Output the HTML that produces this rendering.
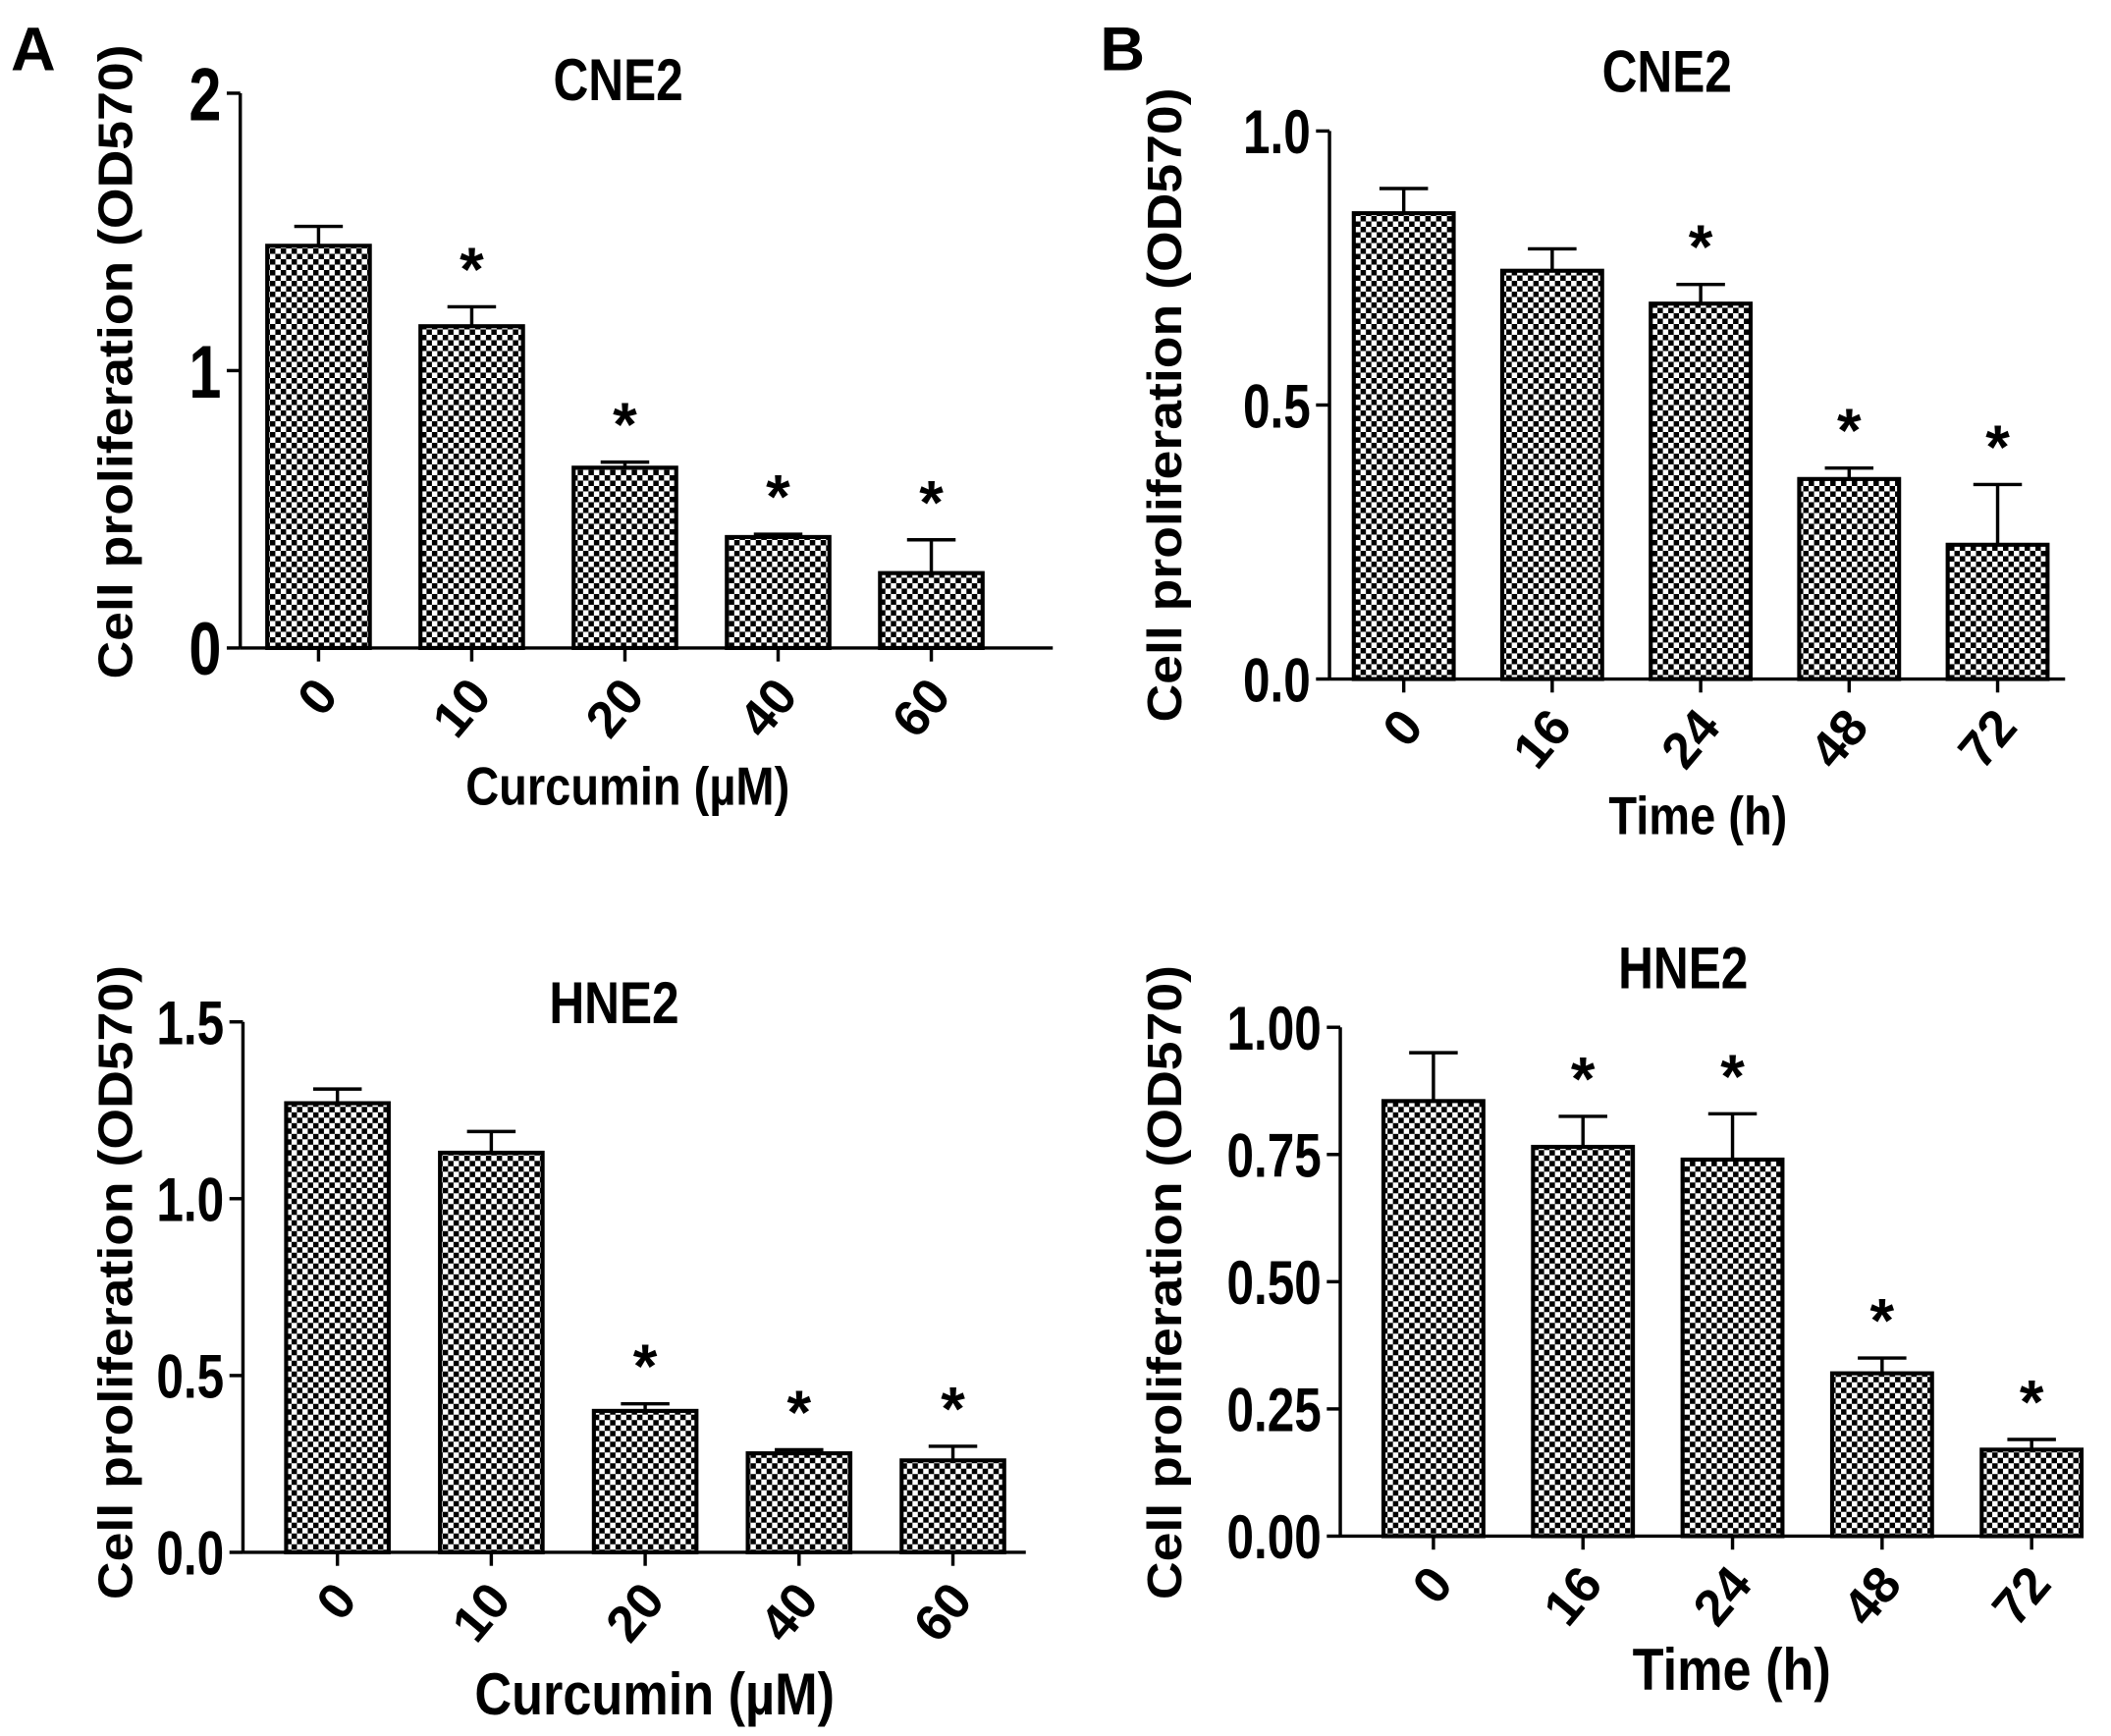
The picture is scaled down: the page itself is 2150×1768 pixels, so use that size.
<!DOCTYPE html>
<html><head><meta charset="utf-8"><style>
html,body{margin:0;padding:0;background:#fff;}
svg{display:block;}
text{font-family:"Liberation Sans",Arial,sans-serif;font-weight:bold;fill:#000;}
</style></head><body>
<svg id="fig" width="2150" height="1768" viewBox="0 0 1564 1286" xmlns="http://www.w3.org/2000/svg">
<defs>
<pattern id="chk" width="8" height="8" patternUnits="userSpaceOnUse">
<rect width="8" height="8" fill="#fff"/><rect width="4" height="4" fill="#000"/><rect x="4" y="4" width="4" height="4" fill="#000"/>
</pattern>
</defs>
<text x="8" y="52" font-size="46">A</text>
<text x="815" y="52" font-size="46">B</text>
</svg>
<script>
const catsA = ["0","10","20","40","60"];
const catsB = ["0","16","24","48","72"];
const valsA1 = [1.45,1.16,0.65,0.40,0.27];
const errsA1 = [0.07,0.07,0.02,0.01,0.12];
const starA1 = [false,true,true,true,true];
const ticksA1 = [0,1,2];
const tickLabA1 = ["0","1","2"];
const valsA2 = [1.27,1.13,0.40,0.28,0.26];
const errsA2 = [0.04,0.06,0.02,0.01,0.04];
const starA2 = [false,false,true,true,true];
const ticksA2 = [0,0.5,1.0,1.5];
const tickLabA2 = ["0.0","0.5","1.0","1.5"];
const valsB1 = [0.85,0.745,0.685,0.365,0.245];
const errsB1 = [0.045,0.04,0.035,0.02,0.11];
const starB1 = [false,false,true,true,true];
const ticksB1 = [0,0.5,1.0];
const tickLabB1 = ["0.0","0.5","1.0"];
const valsB2 = [0.855,0.765,0.74,0.32,0.17];
const errsB2 = [0.095,0.06,0.09,0.03,0.02];
const starB2 = [false,true,true,true,true];
const ticksB2 = [0,0.25,0.5,0.75,1.0];
const tickLabB2 = ["0.00","0.25","0.50","0.75","1.00"];

const NS="http://www.w3.org/2000/svg";
const svg=document.getElementById('fig');
function mk(tag,attrs,parent){const e=document.createElementNS(NS,tag);for(const k in attrs)e.setAttribute(k,attrs[k]);(parent||svg).appendChild(e);return e;}

function panel(p){
  const g=mk('g',{});
  
  
  const y=v=>p.y0-(v/p.ymax)*(p.y0-p.ytop);
  const x=i=>p.x0+p.first+i*p.step;
  const ya=mk('line',{x1:p.x0,y1:y(p.ymax),x2:p.x0,y2:p.y0,stroke:'#000','stroke-width':2.5},g);
  
  
  const xa=mk('line',{x1:p.x0,y1:p.y0,x2:p.xend,y2:p.y0,stroke:'#000','stroke-width':2.5},g);
  
  
  p.ticks.forEach((t,i)=>{
    mk('line',{x1:p.x0-10,y1:y(t),x2:p.x0,y2:y(t),stroke:'#000','stroke-width':2.5},g);
    const tx=p.x0-14, ty=y(t);
    const tl=mk('text',{x:0,y:p.tfs*0.36,'font-size':p.tfs,'text-anchor':'end',transform:`translate(${tx},${ty}) scale(0.9,1.15)`},g);
    tl.textContent=p.tickLab[i];
    
    
  });
  p.cats.forEach((c,i)=>{
    const cx=x(i), v=p.vals[i], e=p.errs[i];
    mk('line',{x1:cx,y1:p.y0,x2:cx,y2:p.y0+10,stroke:'#000','stroke-width':2.5},g);
    const el=mk('line',{x1:cx,y1:y(v),x2:cx,y2:y(v+e),stroke:'#000','stroke-width':2.5},g);
    
    
    mk('line',{x1:cx-18,y1:y(v+e),x2:cx+18,y2:y(v+e),stroke:'#000','stroke-width':2.5},g);
    const r=mk('rect',{x:cx-p.bw/2,y:y(v),width:p.bw,height:p.y0-y(v),fill:'url(#chk)',stroke:'#000','stroke-width':3},g);
    
    
    if(p.star[i]){
      const s=mk('text',{x:cx,y:y(v+e)-12,'font-size':46,'text-anchor':'middle'},g);
      s.textContent='*';
      
      
    }
    const lx=cx+6, ly=p.y0+28;
    const t=mk('text',{x:lx,y:ly,'font-size':38,'text-anchor':'end',transform:`rotate(-50 ${lx} ${ly})`,dy:13},g);
    t.textContent=c;
    
    
  });
  const ti=mk('text',{x:0,y:0,'font-size':38,'text-anchor':'middle',transform:`translate(${p.titleX},${p.titleY}) scale(0.95,1.15)`},g);
  ti.textContent=p.title;
  
  
  const xt=mk('text',{x:0,y:0,'font-size':p.xtfs,'text-anchor':'middle',transform:`translate(${p.xtX},${p.xtY}) scale(0.95,1.1)`},g);
  xt.textContent=p.xtitle;
  
  
  const yt=mk('text',{x:0,y:0,'font-size':36,'text-anchor':'middle',textLength:470,lengthAdjust:'spacingAndGlyphs',transform:`translate(${p.ylX},${p.ylY}) rotate(-90)`},g);
  yt.textContent='Cell proliferation (OD570)';
  
  
}

panel({name:'chart-a-cne2',x0:178,y0:480,ytop:69,ymax:2,xend:780,first:58,step:113.5,bw:76,cats:catsA,vals:valsA1,errs:errsA1,star:starA1,ticks:ticksA1,tickLab:tickLabA1,tfs:48,title:'CNE2',titleX:458,titleY:74,xtitle:'Curcumin (µM)',xtX:465,xtY:596,xtfs:36,ylX:98,ylY:268});
panel({name:'chart-a-hne2',x0:180,y0:1150,ytop:757,ymax:1.5,xend:760,first:70,step:114,bw:76,cats:catsA,vals:valsA2,errs:errsA2,star:starA2,ticks:ticksA2,tickLab:tickLabA2,tfs:40,title:'HNE2',titleX:455,titleY:758,xtitle:'Curcumin (µM)',xtX:485,xtY:1270,xtfs:40,ylX:98,ylY:950});
panel({name:'chart-b-cne2',x0:985,y0:503,ytop:97,ymax:1,xend:1530,first:55,step:110,bw:74,cats:catsB,vals:valsB1,errs:errsB1,star:starB1,ticks:ticksB1,tickLab:tickLabB1,tfs:40,title:'CNE2',titleX:1235,titleY:68,xtitle:'Time (h)',xtX:1258,xtY:618,xtfs:36,ylX:875,ylY:300});
panel({name:'chart-b-hne2',x0:993,y0:1138,ytop:761,ymax:1,xend:1540,first:69,step:110.8,bw:74,cats:catsB,vals:valsB2,errs:errsB2,star:starB2,ticks:ticksB2,tickLab:tickLabB2,tfs:40,title:'HNE2',titleX:1247,titleY:732,xtitle:'Time (h)',xtX:1283,xtY:1252,xtfs:40,ylX:875,ylY:950});
</script>
</body></html>
